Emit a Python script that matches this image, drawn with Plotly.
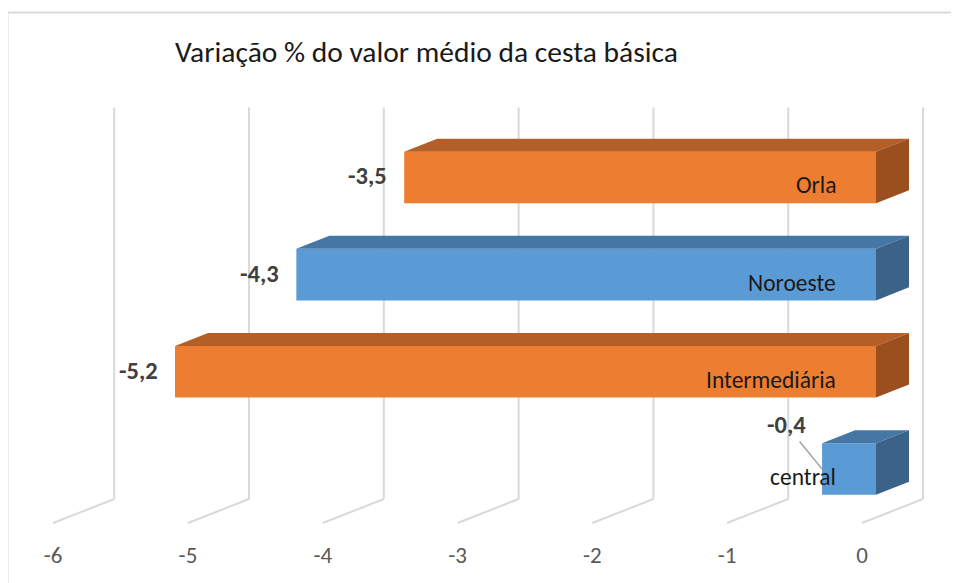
import plotly.graph_objects as go

# ---- data ----
categories = ["central", "Intermediária", "Noroeste", "Orla"]
values = [-0.4, -5.2, -4.3, -3.5]
front_colors = ["#5B9BD5", "#ED7D31", "#5B9BD5", "#ED7D31"]
top_colors = ["#4676A3", "#B45F27", "#4676A3", "#B45F27"]
side_colors = ["#3B6389", "#9B4E1E", "#3B6389", "#9B4E1E"]
tick_values = [-6, -5, -4, -3, -2, -1, 0]
tick_labels = ["-6", "-5", "-4", "-3", "-2", "-1", "0"]
title_text = "Variação % do valor médio da cesta básica"

# ---- 3D projection helpers (in data units) ----
BAR_W = 0.53
DEPTH_X = 0.245   # bar depth, horizontal component
DEPTH_Y = 0.134   # bar depth, vertical component
FRONT_X, FRONT_Y = -0.104, -0.556   # floor front edge relative to bar plane
BACK_X, BACK_Y = 0.349, -0.309      # floor back edge
WALL_TOP = 3.72

FONT = "Calibri, Carlito, Lato, sans-serif"

# page offset (browser body margin) compensation
OFF = 8
W, H = 959 - OFF, 583 - OFF
ML, MT = 20 - OFF, 100 - OFF
PLOT_BOTTOM = 530 - OFF
MB = H - PLOT_BOTTOM
MR = 9
PW = W - ML - MR
PH = H - MT - MB

fig = go.Figure()

# back wall + floor grid lines
for t in tick_values:
    fig.add_shape(type="line", xref="x", yref="y", layer="below",
                  x0=t + BACK_X, x1=t + BACK_X, y0=BACK_Y, y1=WALL_TOP,
                  line=dict(color="#D9D9D9", width=2))
    fig.add_shape(type="line", xref="x", yref="y", layer="below",
                  x0=t + BACK_X, x1=t + FRONT_X, y0=BACK_Y, y1=FRONT_Y,
                  line=dict(color="#D9D9D9", width=2))

# front faces
fig.add_trace(go.Bar(
    x=values, y=list(range(len(categories))), orientation="h",
    width=BAR_W, marker=dict(color=front_colors, line=dict(width=0)),
    hoverinfo="skip", showlegend=False))

# top and side faces
for i, v in enumerate(values):
    yt = i + BAR_W / 2
    yb = i - BAR_W / 2
    fig.add_trace(go.Scatter(
        x=[v, v + DEPTH_X, 0 + DEPTH_X, 0, v],
        y=[yt, yt + DEPTH_Y, yt + DEPTH_Y, yt, yt],
        fill="toself", fillcolor=top_colors[i], mode="lines",
        line=dict(width=0, color=top_colors[i]), hoverinfo="skip", showlegend=False))
    fig.add_trace(go.Scatter(
        x=[0, DEPTH_X, DEPTH_X, 0, 0],
        y=[yt, yt + DEPTH_Y, yb + DEPTH_Y, yb, yt],
        fill="toself", fillcolor=side_colors[i], mode="lines",
        line=dict(width=0, color=side_colors[i]), hoverinfo="skip", showlegend=False))

# value labels
for i, v in enumerate(values):
    txt = f"{v:.1f}".replace(".", ",")
    if abs(v) < 1:
        fig.add_annotation(x=v, y=i, text=f"<b>{txt}</b>", showarrow=True,
                           arrowhead=0, arrowwidth=1.5, arrowcolor="#A6A6A6",
                           ax=-36, ay=-44, standoff=0,
                           font=dict(family=FONT, size=24.5, color="#404040"))
    else:
        fig.add_annotation(x=v, y=i, text=f"<b>{txt}</b>", showarrow=False,
                           xanchor="right", xshift=-15, yshift=1,
                           font=dict(family=FONT, size=24.5, color="#404040"))

# category labels inside bars
for i, c in enumerate(categories):
    fig.add_annotation(x=0, y=i, text=c, showarrow=False, xanchor="right",
                       xshift=-38, yshift=-8,
                       font=dict(family=FONT, size=23.5, color="#1A1A1A"))

fig.update_layout(
    width=W, height=H, autosize=False,
    margin=dict(l=ML, r=MR, t=MT, b=MB, pad=0),
    paper_bgcolor="white", plot_bgcolor="white",
    title=dict(text=title_text, x=(175 - OFF) / W, xanchor="left",
               y=1 - (52 - OFF) / H, yanchor="middle",
               font=dict(family=FONT, size=29.5, color="#1A1A1A")),
    xaxis=dict(range=[-6.35, 0.549], tickvals=[t + FRONT_X for t in tick_values],
               ticktext=tick_labels, showgrid=False, zeroline=False, showline=False,
               ticks="", ticklabelstandoff=9,
               tickfont=dict(family=FONT, size=23, color="#595959"), fixedrange=True),
    yaxis=dict(range=[-0.628, 3.797], showticklabels=False, showgrid=False,
               zeroline=False, showline=False, fixedrange=True),
)

# outer frame (top and left border)
top_y = (PLOT_BOTTOM - (12.5 - OFF)) / PH
fig.add_shape(type="line", xref="paper", yref="paper",
              x0=(7.5 - OFF - ML) / PW, x1=(W - ML) / PW, y0=top_y, y1=top_y,
              line=dict(color="#D9D9D9", width=2))
fig.add_shape(type="line", xref="paper", yref="paper",
              x0=(7.5 - OFF - ML) / PW, x1=(7.5 - OFF - ML) / PW,
              y0=top_y, y1=(PLOT_BOTTOM - H) / PH,
              line=dict(color="#D9D9D9", width=2))

fig.write_html("out.html")
